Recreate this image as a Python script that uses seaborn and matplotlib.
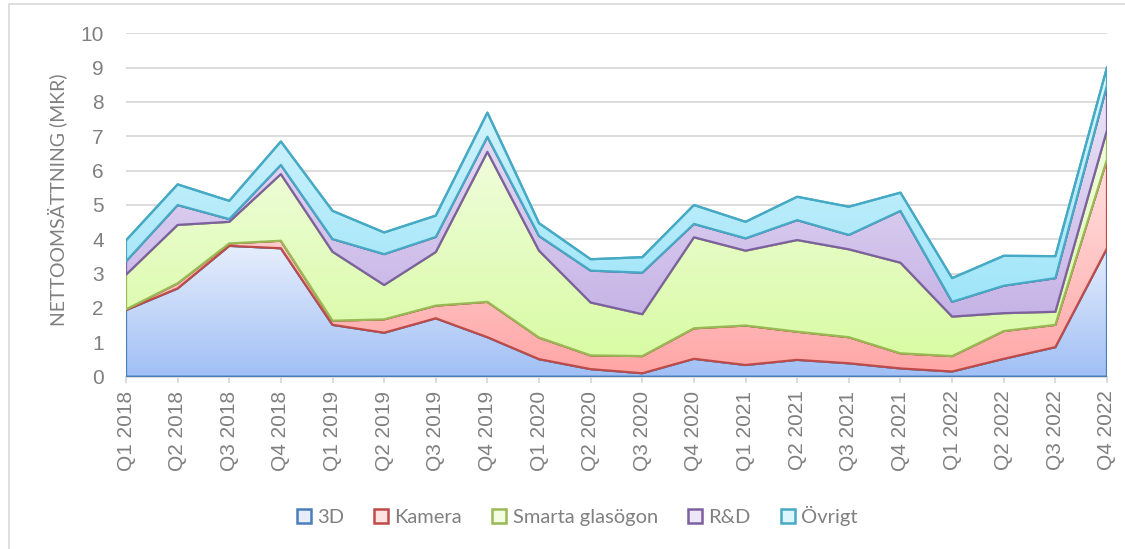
import numpy as np
import pandas as pd
import matplotlib
matplotlib.use("Agg")
import matplotlib.pyplot as plt
import seaborn as sns
from matplotlib.patches import Polygon, Patch, Rectangle
from matplotlib.colors import LinearSegmentedColormap

# quarters on the x axis
quarters = ["Q1 2018", "Q2 2018", "Q3 2018", "Q4 2018",
            "Q1 2019", "Q2 2019", "Q3 2019", "Q4 2019",
            "Q1 2020", "Q2 2020", "Q3 2020", "Q4 2020",
            "Q1 2021", "Q2 2021", "Q3 2021", "Q4 2021",
            "Q1 2022", "Q2 2022", "Q3 2022", "Q4 2022"]

# net sales per segment (MSEK)
sales_3d = [1.94, 2.57, 3.81, 3.74, 1.51, 1.28, 1.70, 1.15, 0.51, 0.22,
            0.10, 0.52, 0.34, 0.49, 0.39, 0.24, 0.15, 0.52, 0.86, 3.74]
sales_kamera = [0.02, 0.15, 0.07, 0.22, 0.12, 0.39, 0.37, 1.03, 0.63, 0.40,
                0.50, 0.89, 1.15, 0.82, 0.76, 0.44, 0.45, 0.81, 0.65, 2.59]
sales_smarta = [1.01, 1.70, 0.63, 1.94, 2.01, 1.00, 1.56, 4.37, 2.53, 1.54,
                1.22, 2.65, 2.18, 2.67, 2.56, 2.64, 1.15, 0.52, 0.38, 0.85]
sales_rd = [0.39, 0.58, 0.08, 0.27, 0.37, 0.90, 0.44, 0.44, 0.43, 0.93,
            1.21, 0.39, 0.36, 0.58, 0.42, 1.51, 0.43, 0.80, 0.98, 1.31]
sales_ovrigt = [0.61, 0.60, 0.53, 0.68, 0.82, 0.63, 0.62, 0.70, 0.37, 0.33,
                0.45, 0.55, 0.48, 0.68, 0.82, 0.53, 0.69, 0.87, 0.64, 0.52]

segments = ["3D", "Kamera", "Smarta glasögon", "R&D", "Övrigt"]

df = pd.DataFrame({"Kvartal": quarters, "3D": sales_3d, "Kamera": sales_kamera,
                   "Smarta glasögon": sales_smarta, "R&D": sales_rd,
                   "Övrigt": sales_ovrigt})

# edge colour, dark fill (bottom), light fill (top)
styles = {
    "3D": ("#4a7ebb", "#a0bff5", "#e6eefc"),
    "Kamera": ("#be4b48", "#ffa6a6", "#ffe2e2"),
    "Smarta glasögon": ("#98b954", "#d9fba4", "#f2fde2"),
    "R&D": ("#7d60a0", "#c6b3e6", "#ece6f7"),
    "Övrigt": ("#46aac5", "#9fe5f9", "#dcf6fd"),
}

sns.set_theme(style="white")
plt.rcParams["font.family"] = ["Lato", "DejaVu Sans"]
grey = "#808080"
tick_font = ["Liberation Sans", "DejaVu Sans"]

fig = plt.figure(figsize=(11.25, 5.49), dpi=100)
ax = fig.add_axes([0.112, 0.3139, 0.872, 0.6254])

x = np.arange(len(quarters))
lower = np.zeros(len(quarters))
for i, seg in enumerate(segments):
    upper = lower + df[seg].to_numpy()
    edge, dark, light = styles[seg]
    verts = list(zip(x, upper)) + list(zip(x[::-1], lower[::-1]))
    clip = Polygon(verts, closed=True, facecolor="none", edgecolor="none")
    ax.add_patch(clip)
    cmap = LinearSegmentedColormap.from_list(seg, [dark, light])
    grad = np.linspace(0, 1, 256).reshape(-1, 1)
    im = ax.imshow(grad, extent=[0, len(x) - 1, lower.min(), upper.max()],
                   origin="lower", aspect="auto", cmap=cmap,
                   interpolation="bicubic", zorder=2 + i * 2)
    im.set_clip_path(clip)
    outline = Polygon(verts, closed=True, facecolor="none", edgecolor=edge,
                      lw=1.6, joinstyle="round", zorder=3 + i * 2)
    ax.add_patch(outline)
    sns.lineplot(x=x, y=upper, color=edge, lw=1.6, ax=ax, zorder=3 + i * 2)
    lower = upper

ax.set_xlim(0, len(x) - 1)
ax.set_ylim(0, 10)
ax.set_yticks(range(0, 11))
ax.set_xticks(x)
ax.set_xticklabels(quarters, rotation=90)
ax.grid(axis="y", color="#d9d9d9", lw=1.3, zorder=0)
ax.grid(axis="x", visible=False)
for s in ["top", "right", "left"]:
    ax.spines[s].set_visible(False)
ax.spines["bottom"].set_color("#d9d9d9")
ax.spines["bottom"].set_linewidth(1.3)
ax.tick_params(axis="y", length=0, pad=16, labelsize=15, colors=grey)
ax.tick_params(axis="x", length=4, width=1.3, color="#d9d9d9", pad=6,
               labelsize=15, labelcolor=grey, bottom=True)
for lab in ax.get_xticklabels() + ax.get_yticklabels():
    lab.set_family(tick_font)
ax.set_ylabel("NETTOOMSÄTTNING (MKR)", fontsize=14, color=grey)
ax.yaxis.set_label_coords(-0.06, 0.515)

handles = [Patch(facecolor=styles[s][2], edgecolor=styles[s][0], lw=1.8)
           for s in segments]
fig.legend(handles, segments, loc="center", bbox_to_anchor=(0.513, 0.06),
           ncol=5, frameon=False, fontsize=14.5, labelcolor=grey,
           handlelength=0.7, handleheight=0.7, handletextpad=0.3,
           columnspacing=1.5)

# outer chart frame
fig.patches.append(Rectangle((9 / 1125, -0.1), 1.2, 1 - 4 / 549 + 0.1,
                             transform=fig.transFigure, fill=False,
                             edgecolor="#d9d9d9", lw=1.2))

fig.savefig("out.png", dpi=100)
